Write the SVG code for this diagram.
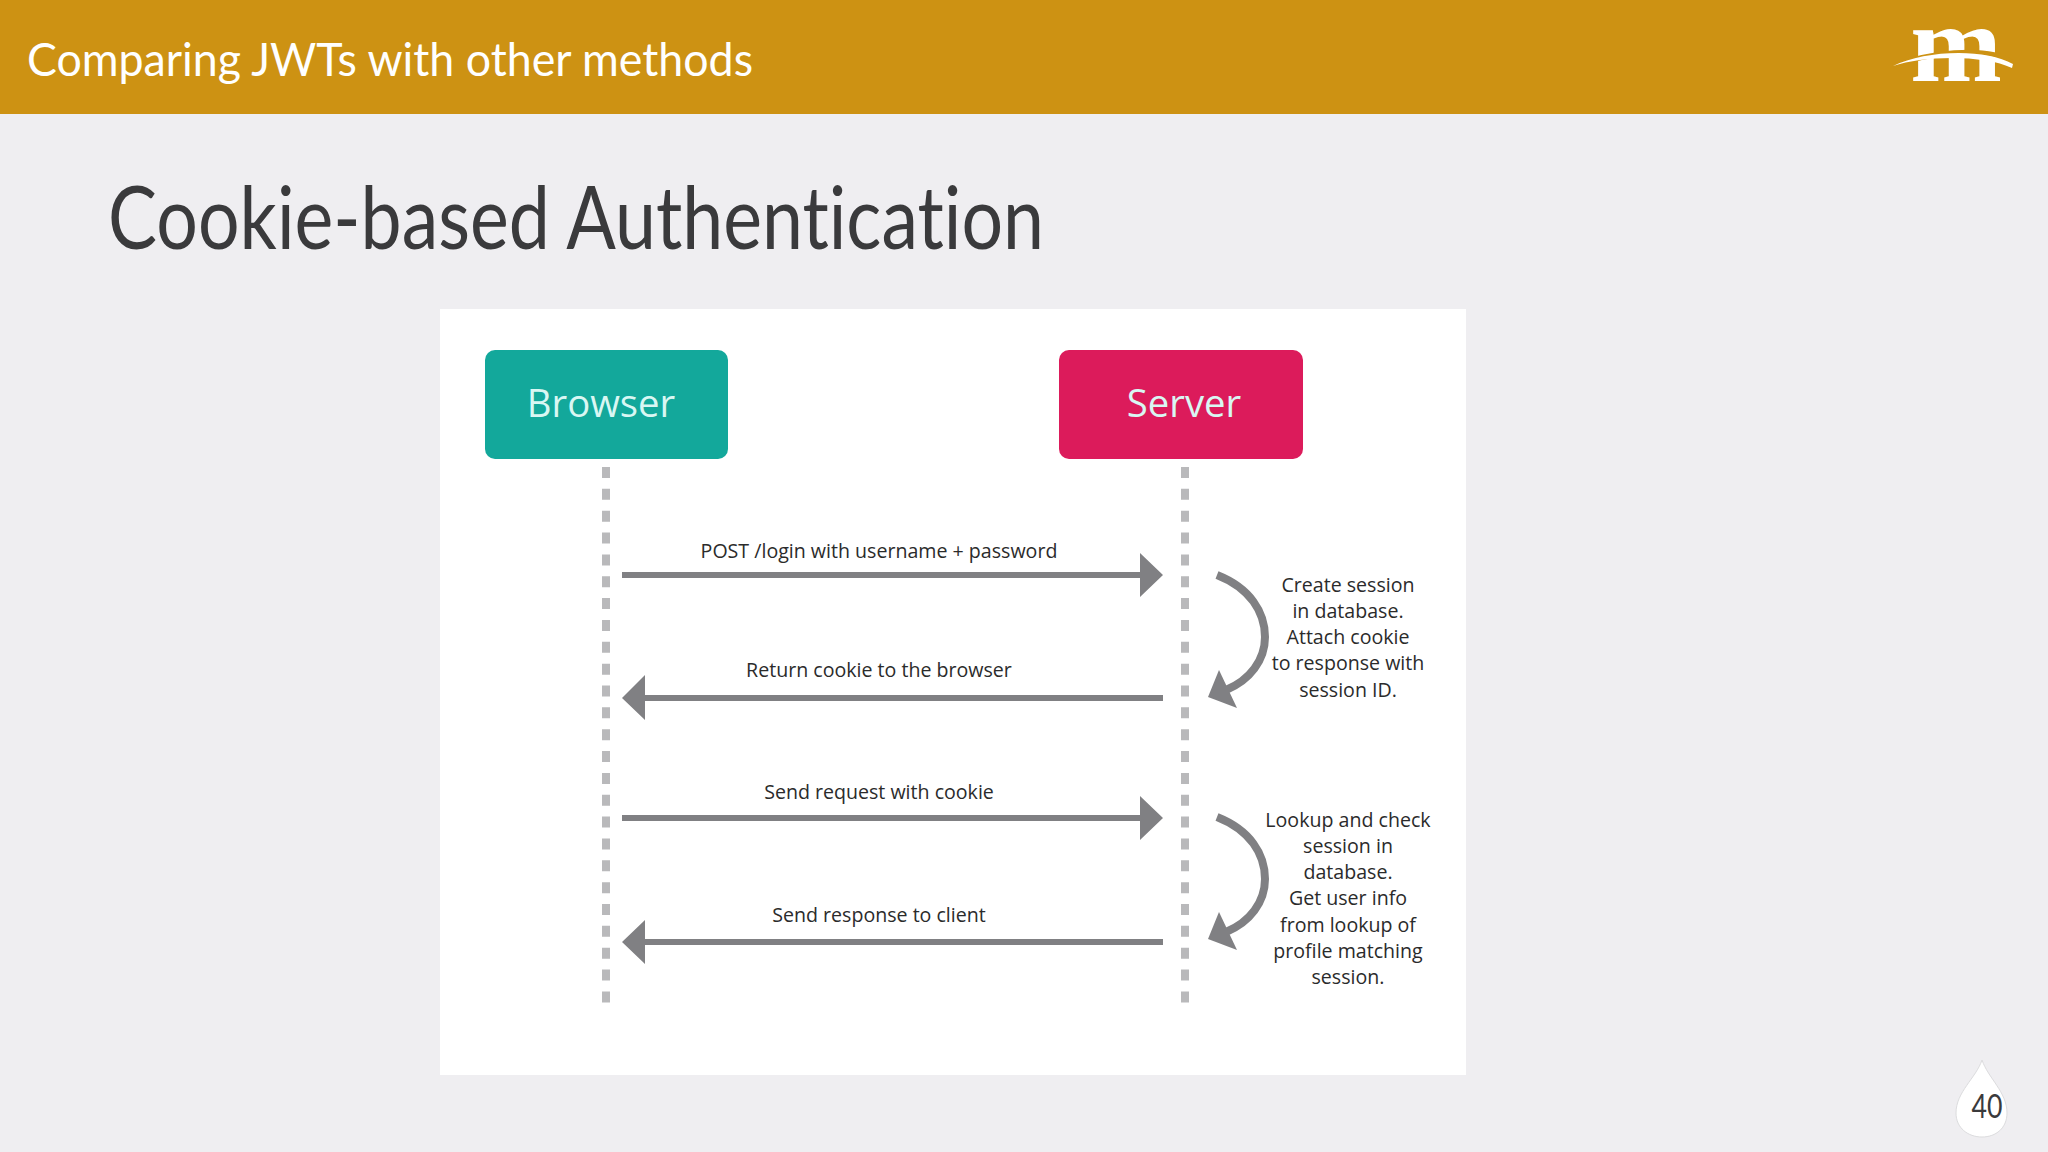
<svg xmlns="http://www.w3.org/2000/svg" width="2048" height="1152" viewBox="0 0 2048 1152">
<defs>
<style>
.dia{font-family:"Open Sans","Noto Sans",sans-serif;font-size:19.6px;fill:#2b2b2b;text-anchor:middle}
.head{font-family:"Open Sans","Noto Sans",sans-serif;font-size:38.300px;fill:#d9f7f3;text-anchor:middle}
.slide{font-family:Lato,"Noto Sans",sans-serif;font-weight:400;font-variant-ligatures:none}
.life{stroke:#b9b9bb;stroke-width:8;stroke-dasharray:11 10.850;fill:none}
.msg{fill:#808083}
.curve{stroke:#808083;stroke-width:8;fill:none}
</style>
</defs>
<rect width="2048" height="1152" fill="#efeef1"/>
<g id="header">
<rect width="2048" height="114" fill="#cd9213"/>
<text class="slide" x="27" y="76" font-size="47" fill="#fff" textLength="726" lengthAdjust="spacingAndGlyphs">Comparing JWTs with other methods</text>
<g id="logo">
<text x="1956" y="81" font-family="Liberation Serif,serif" font-weight="700" font-size="110" fill="#fff" text-anchor="middle">m</text>
<path d="M1893 66C1925 54 1985 44 2012 62" fill="none" stroke="#cd9213" stroke-width="5"/>
<path d="M1893 66C1925 50 1985 48 2013 64L2012 68C1985 55 1925 55 1893 66Z" fill="#fff"/>
</g>
</g>
<text class="slide" x="108" y="249" font-size="87" fill="#3a3a3c" textLength="936" lengthAdjust="spacingAndGlyphs">Cookie-based Authentication</text>
<rect x="440" y="309" width="1026" height="766" fill="#fff"/>
<g id="browser">
<rect x="485" y="350" width="243" height="109" rx="10" fill="#13a89b"/>
<text class="head" x="601" y="417">Browser</text>
</g>
<g id="server">
<rect x="1059" y="350" width="244" height="109" rx="10" fill="#dc1b5b"/>
<text class="head" x="1184" y="417">Server</text>
</g>
<g id="connectors">
<path class="life" d="M606 467V1004"/>
<path class="life" d="M1185 467V1004"/>
<path class="msg" d="M622 572H1140V553L1163 575L1140 597V578H622Z"/>
<path class="msg" d="M1163 695H645V675L622 698L645 720V701H1163Z"/>
<path class="msg" d="M622 815H1140V796L1163 818L1140 840V821H622Z"/>
<path class="msg" d="M1163 939H645V920L622 942L645 964V945H1163Z"/>
<path class="curve" d="M1217 575C1250 588 1265 612 1265 637C1265 660 1250 680 1226 690"/>
<path class="msg" d="M1208 697L1219 670L1237 708Z"/>
<path class="curve" d="M1217 817C1250 830 1265 854 1265 879C1265 902 1250 922 1226 932"/>
<path class="msg" d="M1208 939L1219 912L1237 950Z"/>
</g>
<g id="labels">
<text class="dia" x="879" y="558">POST /login with username + password</text>
<text class="dia" x="879" y="677">Return cookie to the browser</text>
<text class="dia" x="879" y="799">Send request with cookie</text>
<text class="dia" x="879" y="922">Send response to client</text>
</g>
<g id="note-create">
<text class="dia" x="1348" y="592">Create session</text>
<text class="dia" x="1348" y="618">in database.</text>
<text class="dia" x="1348" y="644">Attach cookie</text>
<text class="dia" x="1348" y="670">to response with</text>
<text class="dia" x="1348" y="697">session ID.</text>
</g>
<g id="note-lookup">
<text class="dia" x="1348" y="827">Lookup and check</text>
<text class="dia" x="1348" y="853">session in</text>
<text class="dia" x="1348" y="879">database.</text>
<text class="dia" x="1348" y="905">Get user info</text>
<text class="dia" x="1348" y="932">from lookup of</text>
<text class="dia" x="1348" y="958">profile matching</text>
<text class="dia" x="1348" y="984">session.</text>
</g>
<g id="page">
<path d="M1982 1060C1976 1078 1956 1092 1956 1113C1956 1128 1968 1137 1982 1137C1996 1137 2007 1128 2007 1113C2007 1092 1988 1078 1982 1060Z" fill="#fff" stroke="#dcdcde"/>
<text class="slide" x="1987" y="1118" font-size="33" fill="#3a3a3c" text-anchor="middle" textLength="31" lengthAdjust="spacingAndGlyphs">40</text>
</g>
</svg>
